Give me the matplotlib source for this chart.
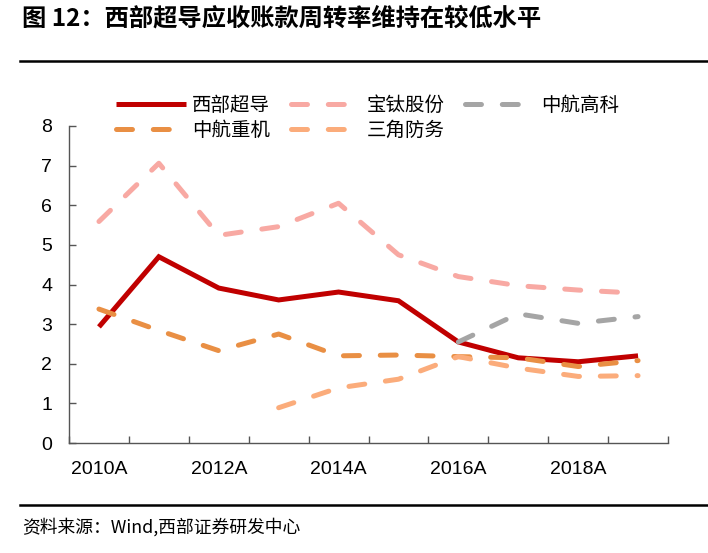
import matplotlib
matplotlib.use("Agg")
import matplotlib.pyplot as plt
from matplotlib.lines import Line2D

plt.rcParams['font.family'] = ['Liberation Sans', 'Noto Sans CJK SC', 'DejaVu Sans']
plt.rcParams['lines.scale_dashes'] = False

years = ['2010A', '2011A', '2012A', '2013A', '2014A', '2015A', '2016A', '2017A', '2018A', '2019A']
xbjd = [2.93, 4.70, 3.91, 3.61, 3.81, 3.59, 2.55, 2.15, 2.05, 2.20]
btgf = [5.59, 7.06, 5.24, 5.46, 6.05, 4.75, 4.20, 3.97, 3.86, 3.78]
zhgk = [None, None, None, None, None, None, 2.55, 3.26, 3.02, 3.19]
zhzj = [3.38, 2.84, 2.33, 2.75, 2.20, 2.22, 2.18, 2.15, 1.93, 2.08]
sjfw = [None, None, None, 0.89, 1.39, 1.61, 2.18, 1.89, 1.68, 1.70]
names = ['西部超导', '宝钛股份', '中航高科', '中航重机', '三角防务']
colors = ['#C00000', '#F8A9A3', '#A5A5A5', '#E98F44', '#FBAC7B']
yticks = [0, 1, 2, 3, 4, 5, 6, 7, 8]

fig = plt.figure(figsize=(7.08, 5.53), dpi=100)
ax = fig.add_axes([69/708, 1-443/553, (668-69)/708, (443-126)/553])

def xy(vals):
    xs = [i for i, v in enumerate(vals) if v is not None]
    ys = [v for v in vals if v is not None]
    return xs, ys

series = [xbjd, btgf, zhgk, zhzj, sjfw]
handles = {}
for k, (vals, name, c) in enumerate(zip(series, names, colors)):
    xs, ys = xy(vals)
    if k == 0:
        ln, = ax.plot(xs, ys, color=c, lw=3.6, solid_capstyle='butt', solid_joinstyle='miter', zorder=2)
    else:
        ln, = ax.plot(xs, ys, color=c, lw=3.6, dash_capstyle='round', zorder=3 + k,
                      linestyle=(0, (11.5, 15)))
    handles[name] = ln

ax.set_xlim(-0.5, len(years) - 0.5)
ax.set_ylim(0, 8)
ax.set_yticks(yticks)
ax.set_yticklabels([str(v) for v in yticks])
ax.set_xticks(range(0, len(years), 2))
ax.set_xticklabels(years[::2])
ax.set_xticks([i - 0.5 for i in range(len(years) + 1)], minor=True)
ax.tick_params(axis='x', which='major', length=0, pad=13, labelsize=14)
ax.tick_params(axis='x', which='minor', length=5, direction='in', color='#555555', width=1)
ax.tick_params(axis='y', which='major', length=5, direction='in', color='#555555', width=1, pad=12, labelsize=14)
for s in ['top', 'right']:
    ax.spines[s].set_visible(False)
for s in ['left', 'bottom']:
    ax.spines[s].set_color('#555555')
    ax.spines[s].set_linewidth(1)

order = ['西部超导', '中航重机', '宝钛股份', '三角防务', '中航高科']
leg = fig.legend([handles[n] for n in order], order, ncol=3, loc='center left',
                 bbox_to_anchor=(99/708, 1-118/553), frameon=False,
                 prop={'family': ['Noto Sans CJK SC'], 'size': 14},
                 handlelength=3.6, handletextpad=0.3, columnspacing=1.05,
                 labelspacing=0.2)

fig.text(22/708, 1-19/553, '图 12：西部超导应收账款周转率维持在较低水平', fontsize=17.5,
         fontweight='bold', family=['Noto Sans CJK SC', 'DejaVu Sans'], va='center', ha='left')
fig.add_artist(Line2D([20/708, 1.0], [1-61/553, 1-61/553], color='black', lw=1.8))
fig.add_artist(Line2D([20/708, 1.0], [1-505/553, 1-505/553], color='black', lw=1.8))
fig.text(22/708, 1-527/553, '资料来源：Wind,西部证券研发中心', fontsize=12.8,
         family=['Noto Sans CJK SC', 'DejaVu Sans'], va='center', ha='left')

fig.savefig('out.png', dpi=100)
